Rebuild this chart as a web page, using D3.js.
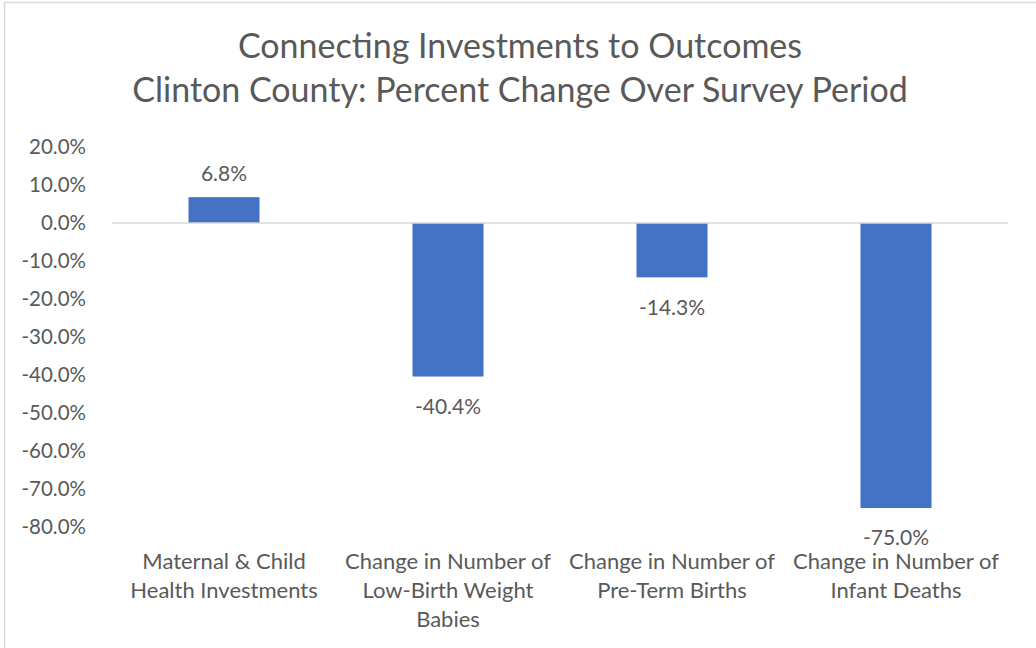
<!DOCTYPE html>
<html>
<head>
<meta charset="utf-8">
<style>
  body { margin: 0; background: #fff; }
  svg { display: block; font-family: Lato, 'Open Sans', sans-serif; }
</style>
</head>
<body>
<svg width="1036" height="648"></svg>
<script src="https://d3js.org/d3.v7.min.js"></script>
<script>
  // chart data
  let categories = [
    ["Maternal & Child", "Health Investments"],
    ["Change in Number of", "Low-Birth Weight", "Babies"],
    ["Change in Number of", "Pre-Term Births"],
    ["Change in Number of", "Infant Deaths"]
  ];
  let values = [6.8, -40.4, -14.3, -75.0];
  let yTicks = [20, 10, 0, -10, -20, -30, -40, -50, -60, -70, -80];
  let titleLines = ["Connecting Investments to Outcomes", "Clinton County: Percent Change Over Survey Period"];

  let svg = d3.select("svg");
  let textColor = "#595959";
  // plain hyphen for negatives, like the original
  let pct = d => d.toFixed(1) + "%";

  // outer chart border
  svg.append("rect")
    .attr("x", 4.5).attr("y", 2.5)
    .attr("width", 1100).attr("height", 700)
    .attr("fill", "none")
    .attr("stroke", "#d9d9d9")
    .attr("stroke-width", 1.5);

  svg.append("text")
    .attr("text-anchor", "middle")
    .style("font-size", "34px")
    .style("fill", textColor)
    .selectAll("tspan")
    .data(titleLines)
    .join("tspan")
    .attr("x", 520)
    .attr("y", (d, i) => 58 + i * 44)
    .text(d => d);

  let x = d3.scaleBand()
    .domain(d3.range(categories.length))
    .range([112, 1008])
    .paddingInner(0.683)
    .paddingOuter(0.3415);

  let y = d3.scaleLinear()
    .domain([-80, 20])
    .range([527, 147]);

  // y axis labels
  svg.append("g")
    .selectAll("text")
    .data(yTicks)
    .join("text")
    .attr("x", 86)
    .attr("y", d => y(d))
    .attr("dy", "0.35em")
    .attr("text-anchor", "end")
    .style("font-size", "20.5px")
    .style("fill", textColor)
    .text(pct);

  // bars
  svg.append("g")
    .selectAll("rect")
    .data(values)
    .join("rect")
    .attr("x", (d, i) => x(i))
    .attr("width", x.bandwidth())
    .attr("y", d => y(Math.max(0, d)))
    .attr("height", d => Math.abs(y(d) - y(0)))
    .attr("fill", "#4472c4");

  // zero line
  svg.append("line")
    .attr("x1", 112).attr("x2", 1008)
    .attr("y1", y(0)).attr("y2", y(0))
    .attr("stroke", "#d9d9d9")
    .attr("stroke-width", 1.5);

  // data labels
  svg.append("g")
    .selectAll("text")
    .data(values)
    .join("text")
    .attr("x", (d, i) => x(i) + x.bandwidth() / 2)
    .attr("y", d => d >= 0 ? y(d) - 24 : y(d) + 30)
    .attr("dy", "0.35em")
    .attr("text-anchor", "middle")
    .style("font-size", "21px")
    .style("fill", textColor)
    .text(pct);

  // category labels
  svg.append("g")
    .selectAll("text")
    .data(categories)
    .join("text")
    .attr("text-anchor", "middle")
    .style("font-size", "22px")
    .style("fill", textColor)
    .each(function (lines, i) {
      d3.select(this).selectAll("tspan")
        .data(lines)
        .join("tspan")
        .attr("x", x(i) + x.bandwidth() / 2)
        .attr("y", (d, j) => 561 + j * 29)
        .attr("dy", "0.35em")
        .text(d => d);
    });
</script>
</body>
</html>
